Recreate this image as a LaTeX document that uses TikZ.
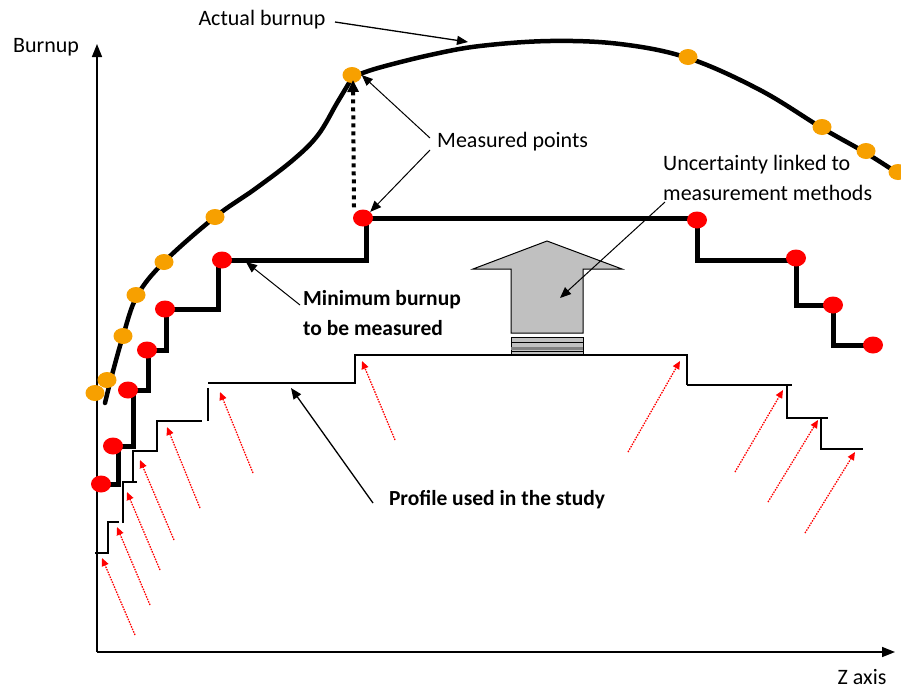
\documentclass[tikz,border=0pt]{standalone}
\usepackage{fontspec}
\setmainfont{Carlito}
\usetikzlibrary{arrows.meta,shapes.geometric}
\definecolor{orpt}{RGB}{247,160,0}
\definecolor{arrgray}{RGB}{192,192,192}
\tikzset{
  lbl/.style={font=\fontsize{22}{28}\selectfont, inner sep=0pt},
  blbl/.style={font=\fontsize{21.5}{28}\selectfont\bfseries, inner sep=0pt},
  redpt/.style={shape=ellipse, fill=red, minimum width=20pt, minimum height=17pt, inner sep=0pt},
  orapt/.style={shape=ellipse, fill=orpt, minimum width=19pt, minimum height=16pt, inner sep=0pt},
  axisline/.style={line width=1.6pt, -{Triangle[length=13pt,width=10pt]}},
  annot/.style={line width=1.3pt, -{Triangle[length=11pt,width=9pt]}},
  stepline/.style={line width=5pt, line join=miter},
  profline/.style={line width=1.5pt},
  burnline/.style={line width=4.5pt, line cap=round},
  redarr/.style={red, line width=1.3pt, dash pattern=on 1.5pt off 1.2pt, -{Triangle[length=8pt,width=7pt]}},
}
\begin{document}
\begin{tikzpicture}[x=1pt,y=-1pt]
\useasboundingbox (0,0) rectangle (901,689);
\fill[white] (0,0) rectangle (901,689);

% axes
\coordinate (O) at (97,652);
\coordinate (Ytop) at (97,44);
\coordinate (Xend) at (895,652);
\draw[axisline] (O) -- (Ytop);
\draw[axisline] (O) -- (Xend);
\node[lbl] (ylab) at (46,47) {Burnup};
\node[lbl] (xlab) at (862,677) {Z axis};

% profile used in the study (thin steps)
\draw[profline] (95,553) -- (108,553) -- (108,522) -- (119,522);
\draw[profline] (123,523) -- (123,482) -- (137,482);
\draw[profline] (133,482) -- (133,451) -- (157,451) -- (157,421) -- (202,421);
\draw[profline] (208,421) -- (208,388);
\draw[profline] (208,383) -- (355,383) -- (355,355) -- (687,355) -- (687,385);
\draw[profline] (687,385) -- (792,385);
\draw[profline] (787,385) -- (787,418) -- (828,418);
\draw[profline] (821,418) -- (821,449) -- (863,449);

% red dotted arrows
\foreach \tx/\ty/\hx/\hy/\n in {135/635/102/558/1, 150/605/117/527/2, 160/570/127/492/3, 174/540/140/460/4, 200/508/167/427/5, 253/473/220/392/6, 395/440/362/361/7, 628/452/680/361/8, 735/472/783/390/9, 768/502/818/420/10, 805/533/855/452/11}{
  \coordinate (rt\n) at (\tx,\ty);
  \coordinate (rh\n) at (\hx,\hy);
  \draw[redarr] (rt\n) -- (rh\n);
}

% big gray arrow
\fill[arrgray, draw=black, line width=1pt] (511,333) -- (511,269) -- (473,269) -- (547,241) -- (622,269) -- (583,269) -- (583,333) -- cycle;
\fill[arrgray] (511,337) rectangle (583,354);
\draw[line width=1pt] (511,337) rectangle (583,354);
\draw[line width=1pt] (511,342.5) -- (583,342.5);
\fill[gray] (511,347) rectangle (583,350);
\draw[line width=1pt] (511,351) -- (583,351);

% minimum burnup steps
\draw[stepline] (101,484) -- (118,484) -- (118,446) -- (133,446) -- (133,390) -- (148,390) -- (148,350) -- (166,350) -- (166,309) -- (218,309) -- (218,260) -- (366,260) -- (366,218) -- (697,218) -- (697,260) -- (796,260) -- (796,305) -- (833,305) -- (833,345) -- (873,345);
\foreach \x/\y/\n in {101/484/1, 113/446/2, 128/390/3, 147/350/4, 165/309/5, 222/260/6, 363/218/7, 697/220/8, 796/258/9, 833/305/10, 873/345/11}{
  \node[redpt] (r\n) at (\x,\y) {};
}

% actual burnup curve
\draw[burnline] plot[smooth, tension=0.6] coordinates {(105,403) (112,375) (123,336) (137,296) (164,262) (215,217) (255,189) (293,160) (318,135) (337,103) (352,78)};
\draw[burnline] plot[smooth, tension=0.6] coordinates {(355,76) (378,68) (430,55) (480,46) (550,41) (620,44) (688,58) (760,90) (822,128) (866,153) (905,178)};
\foreach \x/\y/\n in {95/393/1, 107/380/2, 123/336/3, 136/295/4, 164/262/5, 215/217/6, 352/75/7, 688/57/8, 822/127/9, 866/151/10, 898/172/11}{
  \node[orapt] (o\n) at (\x,\y) {};
}

% dotted measurement arrow
\draw[line width=4pt, dash pattern=on 4pt off 4pt, -{Triangle[length=12pt,width=11pt]}] (r7.north) ++(-9,-2) coordinate (dstart) -- (353,80) coordinate (dend);

% labels and annotation arrows
\node[lbl] (actual) at (262,20) {Actual burnup};
\coordinate (actTail) at (335,22);
\coordinate (actHead) at (468,42);
\draw[annot] (actTail) -- (actHead);

\node[lbl, anchor=west] (meas) at (437,142) {Measured points};
\coordinate (mT1) at (430,138);
\coordinate (mT2) at (430,150);
\draw[annot, line width=1pt] (mT1) -- (o7.east);
\draw[annot, line width=1pt] (mT2) -- (r7.north east);

\node[lbl, anchor=west] (unc1) at (663,165) {Uncertainty linked to};
\node[lbl, anchor=west] (unc2) at (663,193) {measurement methods};
\coordinate (uTail) at (665,202);
\coordinate (uHead) at (560,298);
\draw[annot, line width=1pt] (uTail) -- (uHead);

\node[blbl, anchor=west] (minb1) at (303,300) {Minimum burnup};
\node[blbl, anchor=west] (minb2) at (303,328) {to be measured};
\coordinate (mbTail) at (300,305);
\coordinate (mbHead) at (246,262);
\draw[annot, line width=1pt] (mbTail) -- (mbHead);

\node[blbl] (prof) at (497,500) {Profile used in the study};
\coordinate (pTail) at (373,503);
\coordinate (pHead) at (291,388);
\draw[annot] (pTail) -- (pHead);
\end{tikzpicture}
\end{document}
